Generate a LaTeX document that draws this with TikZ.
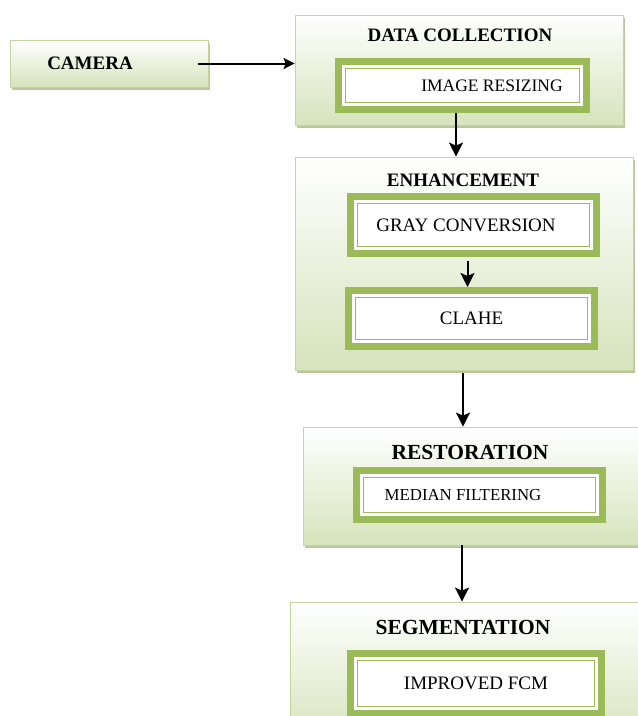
\documentclass[tikz,border=0pt]{standalone}
\usepackage{fontspec}
\setmainfont{Liberation Serif}
\usetikzlibrary{arrows.meta,shadows}
\tikzset{
    every picture/.style={
        line width=1.4pt
    },
    % outer stage boxes with soft green gradient
    stage box/.style={
        draw=stageBorder, line width=0.8pt,
        top color=white, bottom color=stageGreen,
        drop shadow={shadow xshift=2pt, shadow yshift=-3pt, fill=shadowGreen, opacity=1},
        inner sep=0pt
    },
    % inner step frames
    frame box/.style={
        draw=frameGreen, line width=7pt, fill=white,
        inner sep=0pt, font=\fontsize{19}{22}\selectfont
    },
    inner line/.style={draw=frameGreen, line width=1pt},
    title label/.style={font=\fontsize{19}{22}\selectfont\bfseries},
    big title/.style={font=\fontsize{21.5}{24}\selectfont\bfseries},
    flow arrow/.style={-{Stealth[length=14pt,width=14pt,inset=3pt]}, black, line width=2pt},
    side arrow/.style={-{Stealth[length=11pt,width=11pt,inset=2pt]}, black, line width=2pt}
}
\definecolor{stageGreen}{RGB}{214,227,188}
\definecolor{stageBorder}{RGB}{196,214,160}
\definecolor{shadowGreen}{RGB}{185,198,160}
\definecolor{frameGreen}{RGB}{155,187,89}

\begin{document}
\begin{tikzpicture}[x=1pt,y=-1pt]

% Set the canvas size
\path[use as bounding box] (0,0) rectangle (638,716);
\clip (0,0) rectangle (638,716);

% outer boxes
\node[stage box, minimum width=198pt, minimum height=47pt, title label] (camera) at (109,63.5) {CAMERA\hspace*{38pt}};
\node[stage box, minimum width=328pt, minimum height=110pt] (data) at (459,70) {};
\node[stage box, minimum width=338pt, minimum height=213pt] (enh) at (464,263.5) {};
\node[stage box, minimum width=338pt, minimum height=118pt] (rest) at (472,486) {};
\node[stage box, minimum width=355pt, minimum height=140pt] (seg) at (467.5,672) {};

% titles
\node[title label] (datatitle) at (460,35) {DATA COLLECTION};
\node[title label] (enhtitle) at (463,180) {ENHANCEMENT};
\node[big title] (resttitle) at (470,452) {RESTORATION};
\node[big title] (segtitle) at (463,627) {SEGMENTATION};

% inner frames
\node[frame box, minimum width=248pt, minimum height=48pt, font=\fontsize{17.5}{20}\selectfont] (resize) at (462.5,85.5) {\hspace*{59pt}IMAGE RESIZING};
\node[frame box, minimum width=246pt, minimum height=57pt] (gray) at (473.5,225) {GRAY CONVERSION\hspace*{15pt}};
\node[frame box, minimum width=246pt, minimum height=56pt] (clahe) at (471.5,318.5) {CLAHE};
\node[frame box, minimum width=246pt, minimum height=49pt, font=\fontsize{16.8}{20}\selectfont] (median) at (479.5,495) {MEDIAN FILTERING\hspace*{33pt}};
\node[frame box, minimum width=251pt, minimum height=60pt] (fcm) at (476,683) {IMPROVED FCM};

\foreach \n in {resize,gray,clahe,median,fcm}
  \draw[inner line] ([shift={(10.5,10.5)}]\n.north west) rectangle ([shift={(-10.5,-10.5)}]\n.south east);

% arrows
\draw[side arrow] ([xshift=-10pt]camera.east) -- (camera.east -| data.west);
\draw[flow arrow] ([xshift=-6.5pt]resize.south) -- ([xshift=-6.5pt]resize.south |- enh.north);
\draw[flow arrow, shorten <=4pt] ([xshift=-6pt]gray.south) -- ([xshift=-4pt]clahe.north);
\draw[flow arrow, shorten <=3pt] ([xshift=-1pt]enh.south) -- ([xshift=-1pt]enh.south |- rest.north);
\draw[flow arrow] ([xshift=-10pt]rest.south) -- ([xshift=-10pt]rest.south |- seg.north);

\end{tikzpicture}
\end{document}
